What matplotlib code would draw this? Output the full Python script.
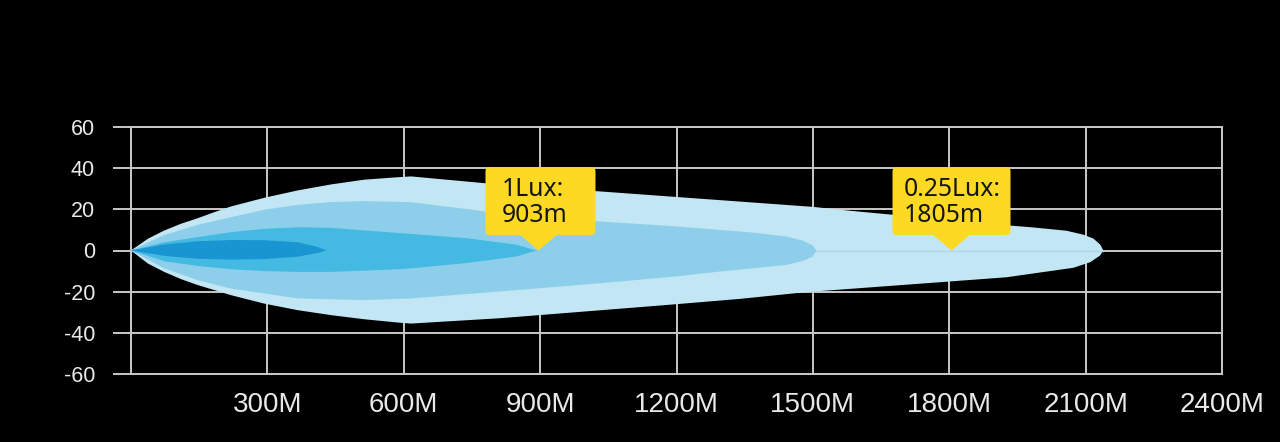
import matplotlib
matplotlib.use("Agg")
import matplotlib.pyplot as plt
import matplotlib.transforms as mtransforms
from matplotlib.patches import FancyBboxPatch, Polygon

# ---------------- data ----------------
x_ticks = [0, 300, 600, 900, 1200, 1500, 1800, 2100, 2400]
x_labels = ["", "300M", "600M", "900M", "1200M", "1500M", "1800M", "2100M", "2400M"]
y_ticks = [-60, -40, -20, 0, 20, 40, 60]
y_labels = ["-60", "-40", "-20", "0", "20", "40", "60"]

# 0.25 lux zone (outer, light blue): upper and lower edges
light_top_x = [0, 37, 73, 110, 147, 183, 220, 293, 367, 440, 513, 587, 616, 812, 1032,
               1200, 1500, 1582, 1912, 1985, 2058, 2095, 2117, 2132, 2139]
light_top_y = [0, 5.7, 9.7, 13.0, 15.7, 18.6, 21.4, 25.6, 29.2, 32.1, 34.4, 35.6, 36.0,
               32.0, 28.7, 26.0, 21.2, 19.3, 12.5, 11.2, 9.6, 7.7, 5.8, 2.9, 0]
light_bot_x = [0, 37, 73, 110, 147, 183, 220, 293, 367, 440, 513, 587, 616, 812, 1120,
               1193, 1340, 1486, 1633, 1780, 1926, 2073, 2110, 2132, 2139]
light_bot_y = [0, -6.3, -10.4, -13.9, -16.8, -19.2, -21.7, -25.8, -29.0, -31.4, -33.4,
               -35.0, -35.5, -32.9, -27.5, -26.2, -23.5, -20.2, -17.8, -15.4, -13.0,
               -8.4, -5.7, -2.4, 0]

# 1 lux zone
med_top_x = [0, 73, 147, 220, 293, 367, 440, 513, 616, 812, 1032, 1200, 1296, 1369, 1442,
             1479, 1500, 1508]
med_top_y = [0, 7.5, 12.5, 16.2, 19.8, 22.2, 23.5, 24.0, 23.5, 18.1, 14.1, 11.7, 10.0,
             8.7, 6.8, 4.7, 2.4, 0]
med_bot_x = [0, 73, 147, 220, 367, 513, 616, 812, 1032, 1200, 1296, 1369, 1442, 1479,
             1500, 1508]
med_bot_y = [0, -8.7, -14.4, -18.5, -23.3, -24.1, -23.3, -19.9, -15.9, -12.6, -10.2,
             -8.6, -7.0, -5.0, -2.9, 0]

# brighter zone
bri_x = [0, 73, 147, 220, 293, 367, 440, 600, 738, 848, 892]
bri_top_y = [0, 4.0, 6.5, 8.9, 10.5, 11.3, 11.0, 8.3, 6.0, 2.8, 0]
bri_bot_y = [0, -5.2, -7.5, -9.1, -10.0, -10.4, -10.4, -9.0, -6.1, -2.9, 0]

# brightest zone
dark_x = [0, 73, 147, 220, 293, 367, 412, 430]
dark_top_y = [0, 2.9, 4.5, 5.1, 5.0, 4.0, 1.6, 0]
dark_bot_y = [0, -2.6, -4.0, -4.4, -4.2, -3.0, -1.1, 0]

callout_x = [903, 1805]
callout_text = [["1Lux:", "903m"], ["0.25Lux:", "1805m"]]

# ---------------- styling ----------------
BG = "#000000"
GRID = "#c8c8c8"
TXT = "#e9e9e9"
C_LIGHT = "#c2e6f4"
C_MED = "#8dcfeb"
C_BRI = "#44b9e2"
C_DARK = "#1995d2"
YELLOW = "#fed924"

W, H, DPI = 1280, 442, 100
fig = plt.figure(figsize=(W / DPI, H / DPI), dpi=DPI, facecolor=BG)
ax = fig.add_axes([131 / W, 1 - 374 / H, (1222 - 131) / W, (374 - 127) / H])
ax.set_facecolor(BG)
ax.set_xlim(0, 2400)
ax.set_ylim(-60, 60)


def zone(tx, ty, bx, by, color, z):
    xs = list(tx) + list(bx)[::-1]
    ys = list(ty) + list(by)[::-1]
    ax.fill(xs, ys, color=color, lw=0, zorder=z, antialiased=True)


zone(light_top_x, light_top_y, light_bot_x, light_bot_y, C_LIGHT, 2)
ax.plot([light_top_x[0], light_top_x[-1]], [0, 0], color="#afd6e8", lw=0.9, zorder=2.2)
zone(med_top_x, med_top_y, med_bot_x, med_bot_y, C_MED, 3)
zone(bri_x, bri_top_y, bri_x, bri_bot_y, C_BRI, 4)
zone(dark_x, dark_top_y, dark_x, dark_bot_y, C_DARK, 5)

# grid / frame
ax.set_axisbelow(True)
ax.grid(True, color=GRID, lw=1.4)
for s in ax.spines.values():
    s.set_color(GRID)
    s.set_linewidth(1.4)
    s.set_zorder(1)

ax.set_xticks(x_ticks)
ax.set_xticklabels(x_labels, fontsize=20, color=TXT, family=["Liberation Sans", "DejaVu Sans"])
ax.set_yticks(y_ticks)
ax.set_yticklabels(y_labels, fontsize=15.5, color=TXT, family=["Liberation Sans", "DejaVu Sans"])
ax.tick_params(axis="x", length=0, pad=13)
ax.tick_params(axis="y", direction="out", length=13, width=1.4, color=GRID, pad=13)

# callouts (sizes in 100-dpi pixels relative to the pointer tip)
geoms = [
    dict(shift=-3, left=-53, right=57, tx=-36.6),
    dict(shift=0, left=-59, right=59, tx=-48),
]
for xv, lines, g in zip(callout_x, callout_text, geoms):
    t = mtransforms.Affine2D().translate(g["shift"], 0).scale(DPI / 100.0) + \
        mtransforms.ScaledTranslation(xv, 0, ax.transData)
    box = FancyBboxPatch((g["left"], 15.6), g["right"] - g["left"], 67.7,
                         boxstyle="round,pad=0,rounding_size=4",
                         transform=t, facecolor=YELLOW, edgecolor="none",
                         zorder=10, clip_on=False)
    fig.add_artist(box)
    tri = Polygon([(-20, 17), (20, 17), (0, 0)], closed=True, transform=t,
                  facecolor=YELLOW, edgecolor="none", zorder=10, clip_on=False)
    fig.add_artist(tri)
    for i, line in enumerate(lines):
        fig.text(g["tx"], 54 - 25 * i, line, transform=t, fontsize=17.8,
                 color="#151515", family=["Noto Sans", "DejaVu Sans"],
                 ha="left", va="baseline", zorder=11)

fig.savefig("out.png", dpi=DPI, facecolor=BG)
